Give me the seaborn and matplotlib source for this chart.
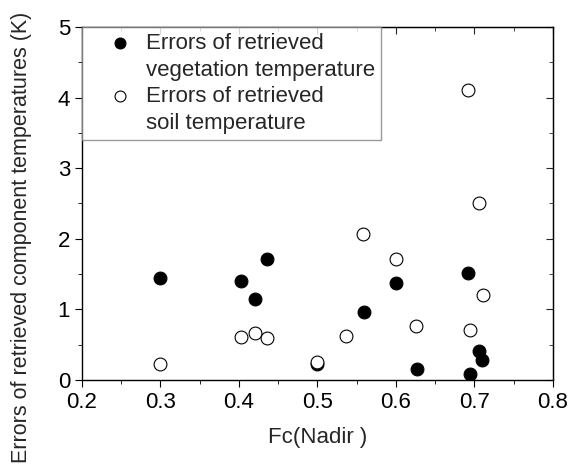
import pandas as pd
import matplotlib.pyplot as plt
import seaborn as sns
from matplotlib.lines import Line2D
from matplotlib.ticker import MultipleLocator

# Data
veg_fc = [0.300, 0.403, 0.421, 0.436, 0.499, 0.559, 0.600, 0.627, 0.692, 0.694, 0.706, 0.710]
veg_err = [1.45, 1.40, 1.15, 1.72, 0.23, 0.97, 1.37, 0.16, 1.52, 0.09, 0.41, 0.29]

soil_fc = [0.300, 0.403, 0.421, 0.436, 0.499, 0.536, 0.558, 0.600, 0.626, 0.692, 0.694, 0.706, 0.711]
soil_err = [0.22, 0.61, 0.66, 0.60, 0.25, 0.62, 2.07, 1.72, 0.77, 4.11, 0.71, 2.51, 1.21]

legend_lines = ["Errors of retrieved", "vegetation temperature",
                "Errors of retrieved", "soil temperature"]

veg_df = pd.DataFrame({"Fc": veg_fc, "Error": veg_err})
soil_df = pd.DataFrame({"Fc": soil_fc, "Error": soil_err})

sns.set_style("ticks")
plt.rcParams["font.family"] = ["Liberation Sans", "DejaVu Sans"]
fs = 16

fig = plt.figure(figsize=(5.71, 4.73), dpi=100)
ax = fig.add_axes([0.1436, 0.1966, 0.8245, 0.7464])

sns.scatterplot(data=veg_df, x="Fc", y="Error", ax=ax, s=85, color="black",
                edgecolor="black", linewidth=0.8, label=legend_lines[0])
sns.scatterplot(data=soil_df, x="Fc", y="Error", ax=ax, s=85, facecolor="white",
                edgecolor="black", linewidth=0.8, label=legend_lines[2])

ax.set_xlim(0.2, 0.8)
ax.set_ylim(0, 5)
ax.xaxis.set_major_locator(MultipleLocator(0.1))
ax.xaxis.set_minor_locator(MultipleLocator(0.05))
ax.yaxis.set_major_locator(MultipleLocator(1))
ax.yaxis.set_minor_locator(MultipleLocator(0.5))
ax.tick_params(which="both", direction="out", labelsize=fs, colors="black")
ax.tick_params(which="major", length=5)
ax.tick_params(which="minor", length=3)

# mirrored ticks on top and right, pointing inward
top = ax.secondary_xaxis("top")
top.xaxis.set_major_locator(MultipleLocator(0.1))
top.xaxis.set_minor_locator(MultipleLocator(0.05))
top.tick_params(which="both", direction="in", labeltop=False)
top.tick_params(which="major", length=5)
top.tick_params(which="minor", length=3)
right = ax.secondary_yaxis("right")
right.yaxis.set_major_locator(MultipleLocator(1))
right.yaxis.set_minor_locator(MultipleLocator(0.5))
right.tick_params(which="both", direction="in", labelright=False)
right.tick_params(which="major", length=5)
right.tick_params(which="minor", length=3)

for side in ["left", "bottom", "top", "right"]:
    ax.spines[side].set_visible(True)
    ax.spines[side].set_color("black")
    ax.spines[side].set_linewidth(1.0)

ax.set_xlabel("Fc(Nadir )", fontsize=fs, labelpad=10)
ax.set_ylabel("Errors of retrieved component temperatures (K)", fontsize=15.5)
ax.yaxis.set_label_coords(-0.107, 0.405)

# legend: marker on the first line of each two-line entry
handles, _ = ax.get_legend_handles_labels()
blank = Line2D([], [], linestyle="none", marker="none")
leg = ax.legend([handles[0], blank, handles[1], blank], legend_lines,
                loc="upper left", bbox_to_anchor=(0, 1), borderaxespad=0,
                fontsize=fs, frameon=True, fancybox=False, handlelength=2.9,
                handletextpad=-0.3, labelspacing=0.25, borderpad=0.28,
                markerscale=0.85)
leg.get_frame().set_edgecolor("gray")
leg.get_frame().set_linewidth(1.0)

plt.savefig("out.png", dpi=100)
